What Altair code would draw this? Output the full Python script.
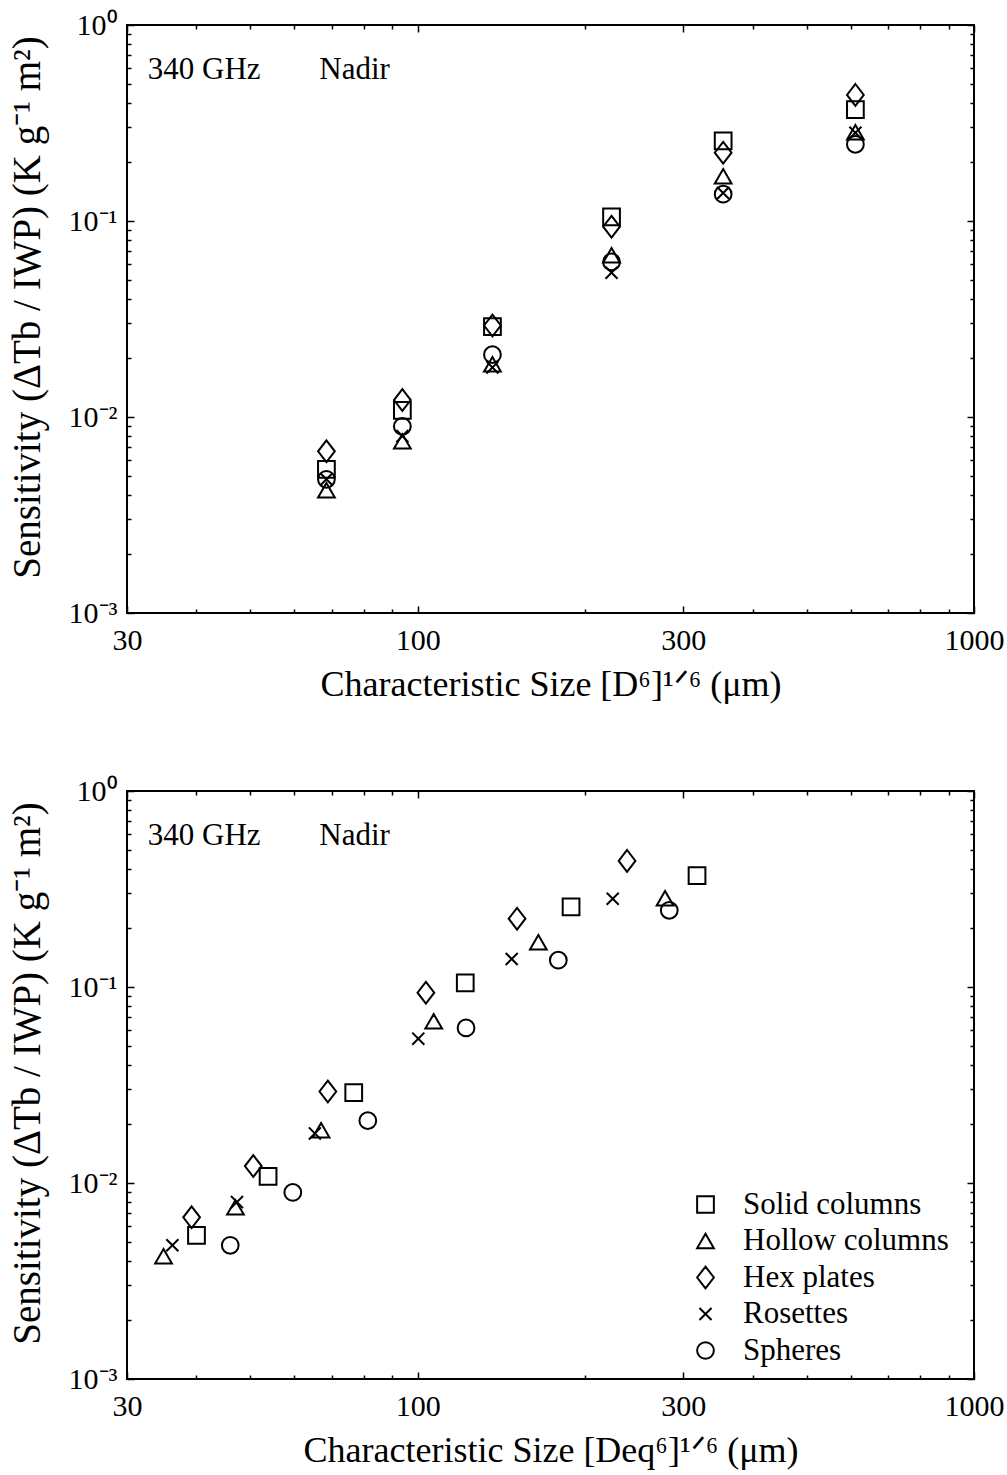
import altair as alt
import pandas as pd

# ---------------- data ----------------
HABITS = ["Solid columns", "Hollow columns", "Hex plates", "Rosettes", "Spheres"]

# characteristic size [D^6]^(1/6) (um) of the six size bins (top panel)
SIZE_TOP = [68.5, 93.8, 136.2, 223.0, 354.0, 612.0]

# sensitivity (K g^-1 m^2) per habit, one value per size bin
SENS_SOLID = [0.00541, 0.0108, 0.0289, 0.105, 0.256, 0.370]
SENS_HOLLOW = [0.00423, 0.00751, 0.0186, 0.0668, 0.169, 0.284]
SENS_HEX = [0.00668, 0.0122, 0.0293, 0.0935, 0.223, 0.440]
SENS_ROS = [0.00481, 0.00799, 0.0179, 0.0545, 0.139, 0.282]
SENS_SPH = [0.00481, 0.00895, 0.0208, 0.0618, 0.137, 0.246]

# characteristic size [Deq^6]^(1/6) (um) per habit (bottom panel)
DEQ_SOLID = [40.0, 53.8, 76.7, 121.7, 188.6, 317.7]
DEQ_HOLLOW = [34.9, 47.0, 67.0, 106.8, 164.7, 278.3]
DEQ_HEX = [39.2, 50.6, 68.9, 103.4, 150.8, 237.8]
DEQ_ROS = [36.2, 47.3, 65.3, 100.2, 147.5, 224.1]
DEQ_SPH = [46.0, 59.6, 81.3, 122.1, 178.9, 283.2]

ANNOT_TEXT = ["340 GHz", "Nadir"]
ANNOT_X = [32.7, 66.5]
ANNOT_Y = [0.59, 0.59]

X_LABELS = [30, 100, 300, 1000]
X_MINOR = [40, 50, 60, 70, 80, 90, 200, 400, 500, 600, 700, 800, 900]
Y_LABELS = [0.001, 0.01, 0.1, 1]
Y_MINOR = [m * d for d in (0.001, 0.01, 0.1) for m in range(2, 10)]

# ---------------- tables ----------------
sens = dict(zip(HABITS, [SENS_SOLID, SENS_HOLLOW, SENS_HEX, SENS_ROS, SENS_SPH]))
deq = dict(zip(HABITS, [DEQ_SOLID, DEQ_HOLLOW, DEQ_HEX, DEQ_ROS, DEQ_SPH]))

top_rows, bot_rows = [], []
for h in HABITS:
    for i in range(6):
        top_rows.append({"habit": h, "size": SIZE_TOP[i], "sens": sens[h][i]})
        bot_rows.append({"habit": h, "size": deq[h][i], "sens": sens[h][i]})
df_top = pd.DataFrame(top_rows)
df_bot = pd.DataFrame(bot_rows)
df_ann = pd.DataFrame({"text": ANNOT_TEXT, "size": ANNOT_X, "sens": ANNOT_Y})

FONT = "Liberation Serif"
W, H = 847, 588
SHAPES = [
    "square",
    "triangle-up",
    "M0,-1.3L1,0L0,1.3L-1,0Z",
    "M-0.72,-0.72L0.72,0.72M-0.72,0.72L0.72,-0.72",
    "circle",
]
YLAB = ("datum.value >= 0.5 ? '10⁰' : datum.value >= 0.05 ? '10⁻¹' : "
        "datum.value >= 0.005 ? '10⁻²' : '10⁻³'")
YTITLE = "Sensitivity  (ΔTb / IWP)  (K  g⁻¹  m²)"


def xs():
    return alt.Scale(type="log", domain=[30, 1000], nice=False)


def ys():
    return alt.Scale(type="log", domain=[0.001, 1], nice=False)


def tick_layer(df, xorient, yorient, xvals, yvals, size):
    return alt.Chart(df).mark_point(opacity=0).encode(
        x=alt.X("size:Q", scale=xs(), axis=alt.Axis(
            orient=xorient, values=xvals, labels=False, domain=False, grid=False,
            ticks=True, tickSize=size, tickWidth=1.5, tickColor="black",
            offset=-size, title=None)),
        y=alt.Y("sens:Q", scale=ys(), axis=alt.Axis(
            orient=yorient, values=yvals, labels=False, domain=False, grid=False,
            ticks=True, tickSize=size, tickWidth=1.5, tickColor="black",
            offset=-size, title=None)),
    )


def panel(df, xtitle, with_legend):
    if with_legend:
        legend = alt.Legend(
            title=None, orient="none", legendX=563, legendY=398,
            labelFont=FONT, labelFontSize=31, labelColor="black",
            symbolSize=280, symbolStrokeWidth=2, symbolStrokeColor="black",
            symbolFillColor="transparent", rowPadding=4.5, labelOffset=22,
            labelLimit=400)
    else:
        legend = None
    pts = alt.Chart(df).mark_point(
        filled=False, size=280, strokeWidth=2, color="black", opacity=1
    ).encode(
        x=alt.X("size:Q", scale=xs(), axis=alt.Axis(
            orient="bottom", values=X_LABELS, format="d", ticks=False,
            domain=False, grid=False, labelFont=FONT, labelFontSize=30,
            labelColor="black", labelPadding=12, labelFlush=False, title=xtitle,
            titleFont=FONT, titleFontSize=36, titleFontWeight="normal",
            titleColor="black", titlePadding=12)),
        y=alt.Y("sens:Q", scale=ys(), axis=alt.Axis(
            orient="left", values=Y_LABELS, labelExpr=YLAB, ticks=False,
            domain=False, grid=False, labelFont=FONT, labelFontSize=30,
            labelColor="black", labelPadding=10, labelFlush=False, title=YTITLE,
            titleFont=FONT, titleFontSize=39, titleFontWeight="normal",
            titleColor="black", titlePadding=21, titleY=282)),
        shape=alt.Shape("habit:N", scale=alt.Scale(domain=HABITS, range=SHAPES),
                        legend=legend),
    )
    ann = alt.Chart(df_ann).mark_text(
        align="left", baseline="middle", font=FONT, fontSize=31, color="black"
    ).encode(
        x=alt.X("size:Q", scale=xs(), axis=None),
        y=alt.Y("sens:Q", scale=ys(), axis=None),
        text="text:N",
    )
    layers = [
        pts,
        tick_layer(df, "bottom", "left", X_LABELS, Y_LABELS, 7),
        tick_layer(df, "bottom", "left", X_MINOR, Y_MINOR, 4),
        tick_layer(df, "top", "right", X_LABELS, Y_LABELS, 7),
        tick_layer(df, "top", "right", X_MINOR, Y_MINOR, 4),
        ann,
    ]
    return alt.layer(*layers).resolve_axis(x="independent", y="independent").properties(
        width=W, height=H)


top = panel(df_top, "Characteristic Size [D⁶]¹ᐟ⁶ (μm)", False)
bot = panel(df_bot, "Characteristic Size [Deq⁶]¹ᐟ⁶ (μm)", True)

chart = alt.vconcat(top, bot, spacing=72).resolve_scale(
    shape="independent").resolve_legend(shape="independent").properties(
    padding={"left": 7, "top": 9, "right": 0, "bottom": 5},
    background="white",
).configure_view(stroke="black", strokeWidth=2)

chart.save("out.html", embed_options={"renderer": "svg", "actions": False})
